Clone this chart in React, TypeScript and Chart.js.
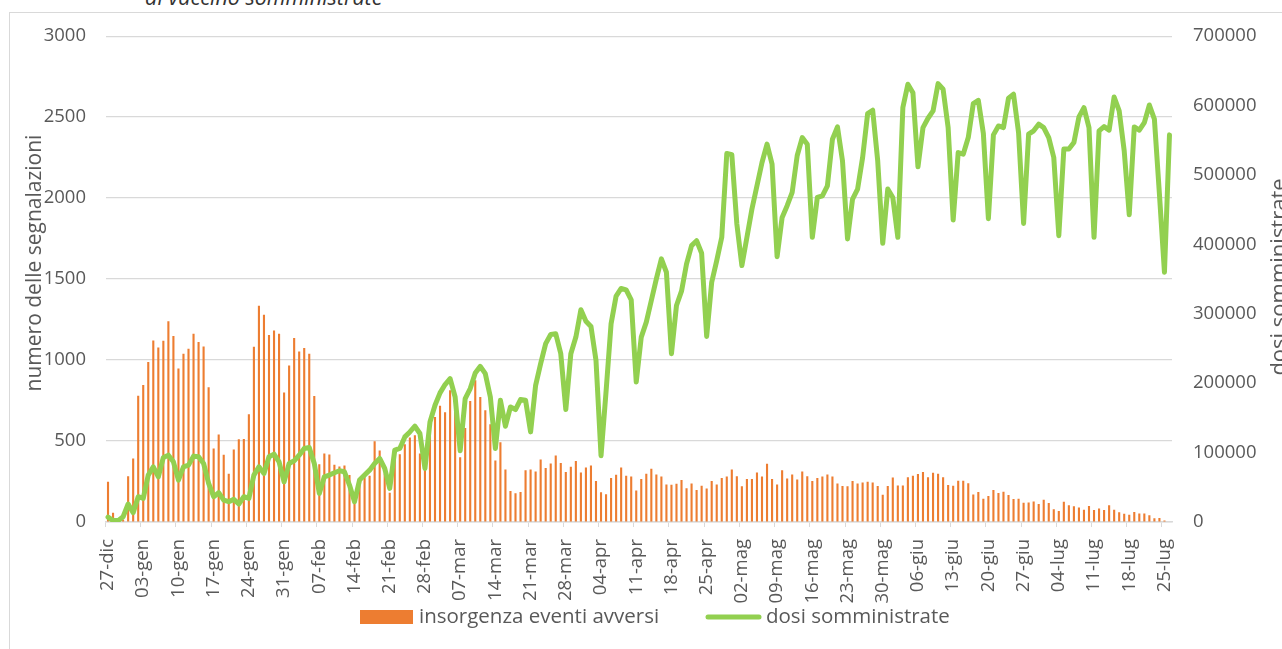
import React, { useEffect, useRef } from "react";
import { Chart, registerables } from "chart.js";

Chart.register(...registerables);

// ---- data ----
const monthNames = ["gen", "feb", "mar", "apr", "mag", "giu", "lug", "ago", "set", "ott", "nov", "dic"];
const startDate = { year: 2020, month: 11, day: 27 }; // 27-dic

// insorgenza eventi avversi (numero delle segnalazioni), one value per day from 27-dic
const adverseEvents = [
  248, 57, 10, 15, 283, 392, 780, 846, 988, 1121, 1078, 1119, 1240, 1148, 947, 1039, 1070, 1162, 1111, 1084,
  832, 454, 540, 415, 298, 448, 511, 513, 665, 1082, 1335, 1279, 1154, 1183, 1162, 799, 967, 1136, 1053, 1074,
  1039, 778, 357, 423, 417, 353, 343, 349, 290, 170, 260, 300, 285, 499, 442, 300, 180, 400, 419, 480,
  522, 536, 423, 330, 639, 649, 718, 678, 813, 720, 400, 581, 747, 875, 772, 690, 604, 380, 493, 324,
  191, 177, 185, 320, 324, 312, 386, 333, 361, 411, 365, 308, 341, 376, 306, 337, 349, 253, 184, 172,
  272, 291, 336, 285, 281, 195, 265, 298, 328, 294, 281, 232, 230, 236, 259, 209, 238, 197, 224, 207,
  253, 232, 271, 281, 324, 283, 220, 265, 265, 306, 281, 359, 265, 232, 320, 269, 294, 262, 312, 283,
  253, 271, 281, 294, 281, 238, 222, 220, 253, 238, 244, 248, 244, 222, 168, 222, 275, 226, 226, 277,
  285, 296, 308, 277, 304, 298, 277, 228, 224, 255, 255, 240, 170, 185, 144, 160, 197, 179, 187, 166,
  142, 144, 119, 121, 127, 111, 138, 117, 78, 68, 125, 103, 97, 90, 76, 99, 74, 84, 74, 103,
  76, 60, 51, 45, 62, 53, 53, 41, 23, 25, 10, 0,
];

// dosi somministrate, one value per day from 27-dic
const dosesAdministered = [
  7000, 2000, 2000, 7600, 25900, 13400, 36400, 34000, 67600, 79500, 65100, 93000, 96300, 86700, 60400, 79500, 81900, 94900, 93900, 84400,
  55600, 36400, 42200, 31600, 29200, 32600, 25900, 36400, 34000, 67600, 79500, 70000, 93900, 97700, 86700, 57900, 84400, 88100, 96300, 105900,
  107400, 84400, 41200, 65100, 67600, 70900, 73800, 72300, 53200, 29200, 60400, 67600, 74700, 84400, 91600, 77200, 48400, 103500, 105900, 122600,
  129800, 138000, 127500, 77200, 144200, 168200, 186000, 198000, 206500, 180100, 102500, 177800, 192200, 214600, 224200, 213700, 180100, 105900, 175400, 138000,
  165700, 162000, 176400, 175400, 129800, 196900, 228100, 256900, 270200, 271200, 242500, 162000, 242500, 266400, 305700, 289300, 281700, 232900, 95500, 187900,
  285600, 325500, 336400, 334500, 320100, 201700, 266400, 287900, 319100, 350300, 379000, 359800, 242500, 311900, 332500, 371900, 398200, 405300, 387100, 267400,
  345400, 376600, 410100, 530800, 529000, 429300, 369400, 410100, 450900, 484400, 517900, 544300, 515600, 382300, 438800, 455700, 475000, 528000, 553800, 544300,
  410100, 467600, 470000, 484400, 551500, 569200, 520300, 407800, 465300, 479700, 525100, 588300, 593200, 520300, 401500, 479700, 467600, 410100, 597000, 630600,
  618500, 511700, 568200, 581700, 592200, 631500, 623400, 568200, 435100, 532300, 529900, 553800, 602700, 607500, 560000, 437000, 557700, 570600, 568200, 610500,
  616200, 561000, 430200, 558700, 563500, 573100, 568200, 553800, 525100, 412500, 537200, 537200, 546700, 583600, 597000, 568200, 410100, 563500, 569600, 564500,
  612300, 592200, 534700, 442700, 569200, 564500, 575400, 600800, 580300, 472500, 359800, 557700,
];

const leftTicks = [0, 500, 1000, 1500, 2000, 2500, 3000];
const rightTicks = [0, 100000, 200000, 300000, 400000, 500000, 600000, 700000];

const seriesNames = ["insorgenza eventi avversi", "dosi somministrate"];
const leftTitle = "numero delle segnalazioni";
const rightTitle = "dosi somministrate";
const chartTitleTail = "di vaccino somministrate";

function buildCategories(count: number): string[] {
  const out: string[] = [];
  const d = new Date(Date.UTC(startDate.year, startDate.month, startDate.day));
  for (let i = 0; i < count; i++) {
    const dd = String(d.getUTCDate()).padStart(2, "0");
    out.push(`${dd}-${monthNames[d.getUTCMonth()]}`);
    d.setUTCDate(d.getUTCDate() + 1);
  }
  return out;
}
const categories = buildCategories(adverseEvents.length);

const ORANGE = "#ED7D31";
const GREEN = "#92D050";
const TEXT = "#595959";
const GRID = "#d9d9d9";
const FONT = "'Open Sans', sans-serif";

const decorPlugin = {
  id: "decor",
  afterDraw(chart: any) {
    const ctx = chart.ctx as CanvasRenderingContext2D;
    ctx.save();
    ctx.fillStyle = TEXT;
    ctx.textAlign = "center";
    ctx.textBaseline = "alphabetic";
    // left axis title
    ctx.font = `21px ${FONT}`;
    ctx.save();
    ctx.translate(31, 259);
    ctx.rotate(-Math.PI / 2);
    ctx.fillText(leftTitle, 0, 0);
    ctx.restore();
    // right axis title
    ctx.font = `22px ${FONT}`;
    ctx.save();
    ctx.translate(1275.5, 273);
    ctx.rotate(-Math.PI / 2);
    ctx.fillText(rightTitle, 0, 0);
    ctx.restore();

    // legend
    ctx.font = `20.5px ${FONT}`;
    ctx.textAlign = "left";
    ctx.textBaseline = "middle";
    ctx.fillStyle = ORANGE;
    ctx.fillRect(350, 606, 53, 14);
    ctx.fillStyle = TEXT;
    ctx.fillText(seriesNames[0], 409, 613);
    ctx.strokeStyle = GREEN;
    ctx.lineWidth = 5;
    ctx.lineCap = "round";
    ctx.beginPath();
    ctx.moveTo(698, 613);
    ctx.lineTo(749, 613);
    ctx.stroke();
    ctx.fillStyle = TEXT;
    ctx.fillText(seriesNames[1], 756, 613);
    ctx.restore();
  },
};

function ChartView() {
  const ref = useRef<HTMLCanvasElement | null>(null);
  useEffect(() => {
    if (!ref.current) return;
    const chart = new Chart(ref.current, {
      data: {
        labels: categories,
        datasets: [
          {
            type: "bar",
            label: seriesNames[0],
            data: adverseEvents,
            backgroundColor: ORANGE,
            yAxisID: "y",
            barPercentage: 0.42,
            categoryPercentage: 1,
            order: 2,
          },
          {
            type: "line",
            label: seriesNames[1],
            data: dosesAdministered,
            borderColor: GREEN,
            backgroundColor: GREEN,
            borderWidth: 5,
            pointRadius: 0,
            tension: 0,
            yAxisID: "y1",
            order: 1,
            borderJoinStyle: "round",
            borderCapStyle: "round",
          },
        ],
      } as any,
      options: {
        responsive: false,
        animation: false,
        devicePixelRatio: 1,
        layout: { padding: { top: 13, left: 0, right: 0, bottom: 0 } },
        plugins: { legend: { display: false }, tooltip: { enabled: false }, title: { display: false } },
        scales: {
          x: {
            type: "category",
            offset: true,
            grid: {
              offset: true,
              drawOnChartArea: false,
              drawTicks: true,
              tickLength: 5,
              color: (c: any) => (c.index % 7 === 0 ? GRID : "rgba(0,0,0,0)"),
            },
            border: { display: true, color: GRID, width: 1.5 },
            ticks: {
              autoSkip: false,
              minRotation: 90,
              maxRotation: 90,
              padding: 12,
              color: TEXT,
              font: { family: FONT, size: 18.5 },
              callback: (_v: any, i: number) => (i % 7 === 0 ? categories[i] : ""),
            },
            afterFit: (s: any) => {
              s.height = 127;
            },
          },
          y: {
            position: "left",
            min: leftTicks[0],
            max: leftTicks[leftTicks.length - 1],
            afterBuildTicks: (s: any) => {
              s.ticks = leftTicks.map((v) => ({ value: v }));
            },
            grid: { color: GRID, lineWidth: 1.2, drawTicks: false },
            border: { display: false },
            ticks: {
              padding: 19.5,
              color: TEXT,
              font: { family: FONT, size: 18.5 },
              callback: (v: any) => String(v),
            },
            afterFit: (s: any) => {
              s.width = 95.5;
            },
          },
          y1: {
            position: "right",
            min: rightTicks[0],
            max: rightTicks[rightTicks.length - 1],
            afterBuildTicks: (s: any) => {
              s.ticks = rightTicks.map((v) => ({ value: v }));
            },
            grid: { display: false, drawOnChartArea: false, drawTicks: false },
            border: { display: false },
            ticks: {
              padding: 21,
              color: TEXT,
              font: { family: FONT, size: 18.5 },
              callback: (v: any) => String(v),
            },
            afterFit: (s: any) => {
              s.width = 110;
            },
          },
        },
      } as any,
      plugins: [decorPlugin],
    });
    return () => chart.destroy();
  }, []);
  return (
    <canvas
      ref={ref}
      width={1272}
      height={645}
      style={{ position: "absolute", left: 0, top: -9, width: 1272, height: 645, display: "block" }}
    />
  );
}

export default function App() {
  return (
    <div
      style={{
        position: "fixed",
        left: 0,
        top: 0,
        width: 1282,
        height: 649,
        overflow: "hidden",
        background: "#ffffff",
      }}
    >
      <div
        style={{
          position: "absolute",
          left: 145,
          top: -14,
          fontFamily: FONT,
          fontStyle: "italic",
          fontSize: 21.5,
          lineHeight: "21px",
          color: "#333333",
          whiteSpace: "nowrap",
        }}
      >
        {chartTitleTail}
      </div>
      <div
        style={{
          position: "absolute",
          left: 9,
          top: 12,
          width: 1320,
          height: 700,
          border: `1px solid ${GRID}`,
          boxSizing: "border-box",
        }}
      >
        <ChartView />
      </div>
    </div>
  );
}
